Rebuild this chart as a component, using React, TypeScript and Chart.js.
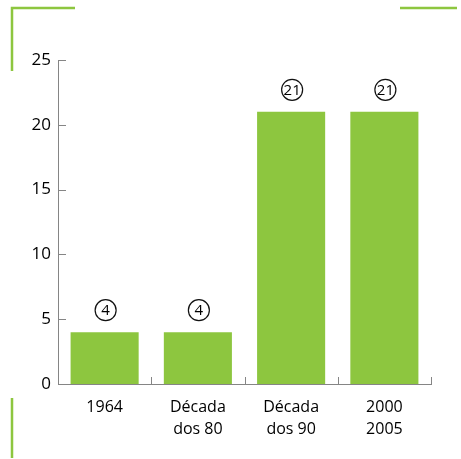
import React, { useEffect, useRef } from "react";
import { Chart, registerables } from "chart.js";

Chart.register(...registerables);

const categories: (string | string[])[] = ["1964", ["Década", "dos 80"], ["Década", "dos 90"], ["2000", "2005"]];
const values: number[] = [4, 4, 21, 21];
const yTicks: number[] = [0, 5, 10, 15, 20, 25];

const GREEN = "#8dc63f";
const AXIS = "#858585";
const TEXT = "#000000";
const FONT = "'Open Sans', 'Noto Sans', sans-serif";

const decorPlugin = {
  id: "decor",
  afterDraw(chart: any) {
    const ctx = chart.ctx;
    const { left, right, bottom } = chart.chartArea;
    const y = chart.scales.y;
    ctx.save();
    // green corner marks
    ctx.strokeStyle = GREEN;
    ctx.lineWidth = 2.5;
    ctx.beginPath();
    ctx.moveTo(12, 71);
    ctx.lineTo(12, 8);
    ctx.lineTo(75, 8);
    ctx.moveTo(400, 8);
    ctx.lineTo(457, 8);
    ctx.moveTo(12, 398);
    ctx.lineTo(12, 458);
    ctx.stroke();
    // inward ticks
    ctx.strokeStyle = AXIS;
    ctx.lineWidth = 1;
    ctx.beginPath();
    yTicks.forEach((v) => {
      if (v === 0) return;
      const py = Math.round(y.getPixelForValue(v)) + 0.5;
      ctx.moveTo(left, py);
      ctx.lineTo(left + 8, py);
    });
    const n = categories.length;
    const w = (right - left) / n;
    for (let i = 1; i <= n; i++) {
      const px = Math.round(left + i * w) + 0.5;
      ctx.moveTo(px, bottom);
      ctx.lineTo(px, bottom - 7);
    }
    ctx.stroke();
    // circled value labels
    const meta = chart.getDatasetMeta(0);
    ctx.font = `15px ${FONT}`;
    ctx.textAlign = "center";
    ctx.textBaseline = "middle";
    meta.data.forEach((bar: any, i: number) => {
      const cx = bar.x + 1;
      const cy = bar.y - 22;
      ctx.beginPath();
      ctx.arc(cx, cy, 10.5, 0, Math.PI * 2);
      ctx.strokeStyle = "#111";
      ctx.lineWidth = 1.2;
      ctx.stroke();
      ctx.fillStyle = "#000";
      ctx.fillText(String(values[i]), cx, cy + 1);
    });
    ctx.restore();
  },
};

export default function App() {
  const ref = useRef<HTMLCanvasElement>(null);
  useEffect(() => {
    document.body.style.margin = "0";
    const chart = new Chart(ref.current!, {
      type: "bar",
      data: {
        labels: categories,
        datasets: [
          {
            data: values,
            backgroundColor: GREEN,
            borderWidth: 0,
            categoryPercentage: 1,
            barPercentage: 0.73,
          },
        ],
      },
      options: {
        animation: false,
        responsive: false,
        layout: { padding: { left: 8, right: 30, top: 60, bottom: 0 } },
        plugins: { legend: { display: false }, tooltip: { enabled: false } },
        scales: {
          x: {
            grid: { display: false, drawTicks: false },
            border: { display: true, color: AXIS, width: 1 },
            ticks: {
              color: TEXT,
              font: { family: FONT, size: 16, lineHeight: 1.35 },
              padding: 13,
              maxRotation: 0,
              autoSkip: false,
            },
            afterFit: (s: any) => {
              s.height = 75;
            },
          },
          y: {
            min: 0,
            max: 25,
            grid: { display: false, drawTicks: false },
            border: { display: true, color: AXIS, width: 1 },
            ticks: {
              stepSize: 5,
              color: TEXT,
              font: { family: FONT, size: 17 },
              padding: 7,
            },
            afterFit: (s: any) => {
              s.width = 50;
            },
          },
        },
      },
      plugins: [decorPlugin],
    });
    return () => chart.destroy();
  }, []);
  return (
    <div style={{ position: "absolute", left: 0, top: 0, width: 461, height: 459, background: "#fff" }}>
      <canvas ref={ref} width={461} height={459} style={{ display: "block" }} />
    </div>
  );
}
